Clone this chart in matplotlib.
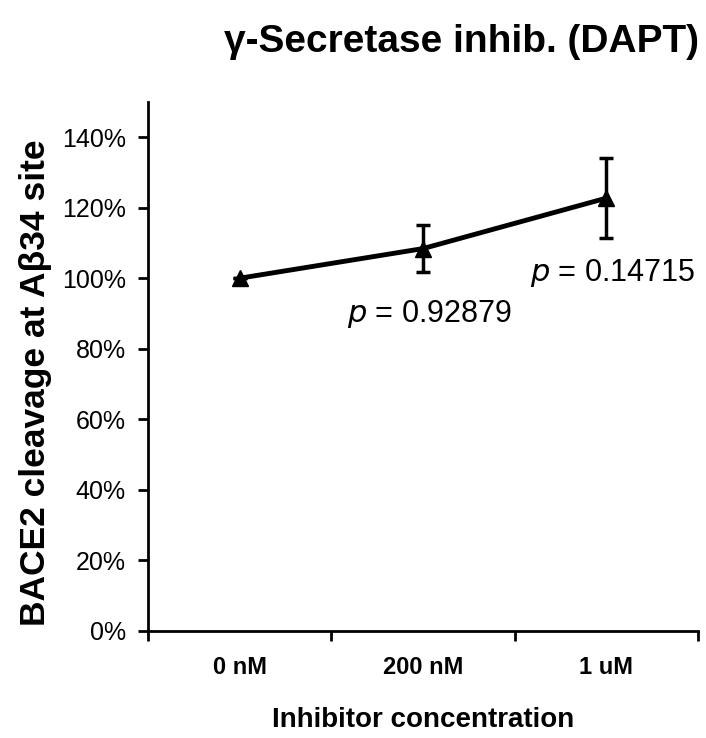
import matplotlib
matplotlib.use("Agg")
import matplotlib.pyplot as plt

categories = ["0 nM", "200 nM", "1 uM"]
values = [100, 108.4, 122.7]
errors = [0, 6.6, 11.4]
yticks = [0, 20, 40, 60, 80, 100, 120, 140]
pvals = ["0.92879", "0.14715"]

plt.rcParams['font.family'] = ['Liberation Sans', 'DejaVu Sans']

fig = plt.figure(figsize=(7.06, 7.38), dpi=100)
ax = fig.add_axes([0.2096, 0.145, 0.779, 0.717])

x = list(range(1, len(categories) + 1))
ax.errorbar(x, values, yerr=errors, color='black', lw=3.5, marker='^', ms=11,
            capsize=5, elinewidth=2.5, capthick=2.5)

ax.set_xlim(0.5, 3.5)
ax.set_ylim(0, 150)
ax.set_yticks(yticks)
ax.set_yticklabels([f"{t}%" for t in yticks], fontsize=18)
ax.set_xticks(x)
ax.set_xticklabels(categories, fontsize=17, fontweight='bold')
ax.set_xticks([0.5, 1.5, 2.5, 3.5], minor=True)
ax.tick_params(axis='x', which='major', length=0, pad=18)
ax.tick_params(axis='x', which='minor', length=7, width=2, direction='out')
ax.tick_params(axis='y', length=7, width=2, direction='out', pad=9)
for s in ['top', 'right']:
    ax.spines[s].set_visible(False)
for s in ['left', 'bottom']:
    ax.spines[s].set_linewidth(2)

ax.set_xlabel("Inhibitor concentration", fontsize=20, fontweight='bold', labelpad=20)
fig.text(0.050, 0.481, "BACE2 cleavage at Aβ34 site", fontsize=25.5, fontweight='bold',
         rotation=90, ha='center', va='center')

ax.text(2.036, 87.6, f"$\\it{{p}}$ = {pvals[0]}", fontsize=22, ha='center', va='baseline')
ax.text(3.034, 99.3, f"$\\it{{p}}$ = {pvals[1]}", fontsize=22, ha='center', va='baseline')

fig.text(0.654, 0.943, "γ-Secretase inhib. (DAPT)", fontsize=28, fontweight='bold',
         ha='center', va='center')

fig.savefig("out.png", dpi=100)
